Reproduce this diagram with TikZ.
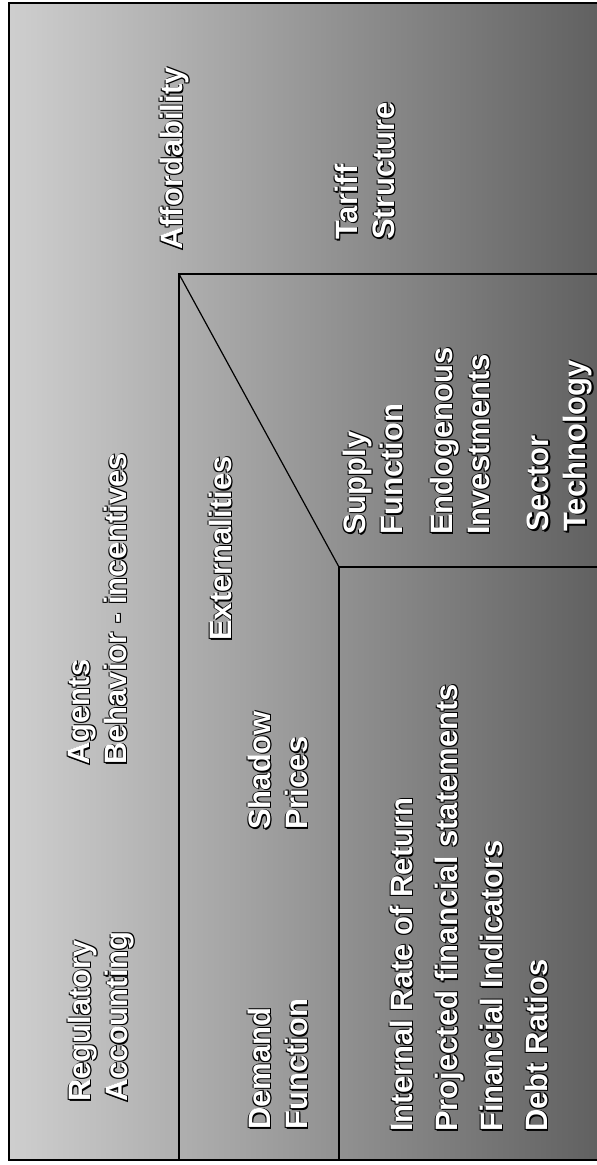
\documentclass[tikz,border=0pt]{standalone}
\usepackage{fontspec}
\setmainfont{Liberation Sans}[BoldFont={Liberation Sans Bold}]

\tikzset{
  lbl/.style={rotate=90, anchor=north west, inner sep=0pt, align=left,
    text=white, font=\bfseries\fontsize{31}{37}\selectfont},
  lblshadow/.style={lbl, text=black},
  rule/.style={line width=1.2pt, black},
}
% white label with a dark edge round it
\newcommand{\shlabel}[4][]{%
  \foreach \dx/\dy [count=\i] in {1.2/1.2, -0.8/0.8, 0.8/-0.8, 1.2/0}
    \node[lblshadow,#1] (#2s\i) at ([shift={(\dx,\dy)}]#3) {#4};
  \node[lbl,#1] (#2) at (#3) {#4};}

\begin{document}
\begin{tikzpicture}[x=1pt, y=-1pt]
  \useasboundingbox (0,0) rectangle (597,1165);
  \fill[white] (0,0) rectangle (597,1165);
  \shade[left color=black!19, right color=black!62] (9,3) rectangle (597,1160);

  % corners of the panels
  \coordinate (tl) at (9,3);
  \coordinate (tr) at (597,3);
  \coordinate (bl) at (9,1160);
  \coordinate (br) at (597,1160);
  \coordinate (p) at (179,274);
  \coordinate (pr) at (597,274);
  \coordinate (pb) at (179,1160);
  \coordinate (q) at (339,567);
  \coordinate (qr) at (597,567);
  \coordinate (qb) at (339,1160);

  \draw[line width=2pt] (tr) -- (tl) -- (bl) -- (br);
  \draw[rule] (pr) -- (p) -- (pb);
  \draw[rule] (p) -- (q);
  \draw[rule] (qr) -- (q) -- (qb);

  \shlabel{reg}{68,1102}{Regulatory\\Accounting}
  \shlabel{agents}{68,765}{Agents\\Behavior - incentives}
  \shlabel{afford}{160,250}{Affordability}
  \shlabel{demand}{248,1130}{Demand\\Function}
  \shlabel{shadow}{248,830}{Shadow\\Prices}
  \shlabel{extern}{209,641}{Externalities}
  \shlabel{tariff}{335,240}{Tariff\\Structure}
  \shlabel{supply}{343,535}{Supply\\Function}
  \shlabel{endog}{430,535}{Endogenous\\Investments}
  \shlabel{sector}{527,532}{Sector\\Technology}
  \shlabel[font=\bfseries\fontsize{31}{45}\selectfont]{irr}{390,1132}%
    {Internal Rate of Return\\Projected financial statements\\Financial Indicators\\Debt Ratios}
\end{tikzpicture}
\end{document}
